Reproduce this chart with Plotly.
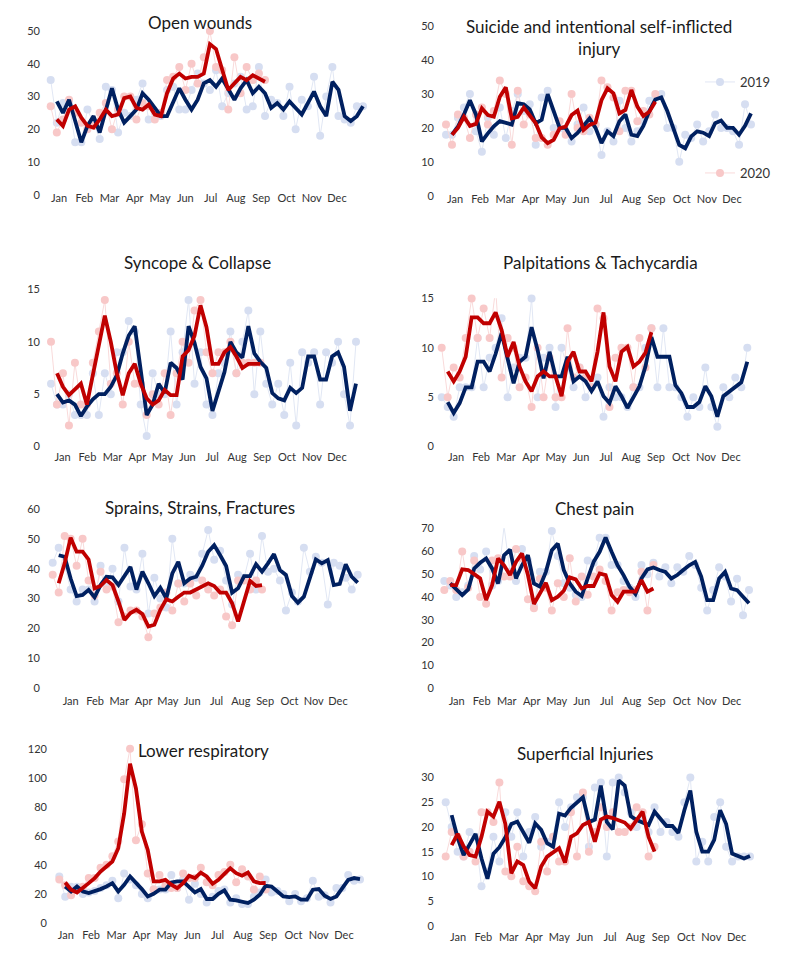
import plotly.graph_objects as go

months = ["Jan", "Feb", "Mar", "Apr", "May", "Jun", "Jul", "Aug", "Sep", "Oct", "Nov", "Dec"]

# weekly counts: 52 weeks of 2019, 36 weeks of 2020, plus the 2-week moving averages as drawn
open_2019 = [35,22,28,28,16,16,26,22,17,33,32,19,25,24,29,34,23,25,24,32,33,26,26,32,37,34,32,38,27,31,34,36,26,27,39,24,29,28,24,33,20,29,27,36,18,30,39,24,23,22,27,27]
open_2020 = [27,19,23,29,25,22,20,21,25,28,20,26,30,30,23,28,27,23,25,35,36,39,32,40,34,42,50,39,38,26,42,31,39,35,37,35]
open_ma19 = [28.5,25,29,22,16,21,24,19,26,32.5,26,22,24,26,31,29,26.5,24,24,28,32.5,29,26,29,34,35,33,35.5,32.5,29,32.5,35,31,33,31,26.5,28,26,28.5,26.5,24.5,28,31.5,27,24,34.5,32,24,22.5,24,27]
open_ma20 = [23,21,26,27,23.5,21,20.5,23,26,24,24.5,29.5,30,26.5,26,27.5,24.5,24,31,35.5,37,35.5,36,36,37,46,44.5,38,32,34,36,35,36.5,35.5,34.5]

suic_2019 = [18,18,23,26,30,19,13,23,18,26,17,25,30,25,27,15,29,31,20,20,19,16,21,26,19,21,12,19,16,28,20,16,19,22,28,29,30,20,20,10,18,17,21,16,19,24,20,20,19,15,27,21]
suic_2020 = [21,15,24,23,17,24,26,21,25,34,30,15,31,21,24,17,17,15,18,22,18,30,20,19,23,21,34,32,29,19,31,31,22,25,24,30]
suic_ma19 = [18,20.4,24,28.2,24,16,18.4,20.5,22,21.5,21,27.3,27,25.5,21.4,22.4,30,25,20,20,17,18.5,20.5,22.8,20,15.5,19,17.6,22,24,18,17.6,20.6,25,28.4,29,25,20,15,14,17.5,19,18.6,17.6,21.4,22.2,20,20,18,20.6,24.3]
suic_ma20 = [18,20,23.3,20.6,21.2,25.8,23.8,23.3,29.2,32,22.8,23.3,26,23.8,21.4,17.2,15.5,16.5,19.9,20.4,23.8,25.1,19.4,20.9,21.6,28.2,31.7,30.2,24.3,25.3,31.2,26.3,23.5,24.8,27.7]

sync_2019 = [6,4,4,5,3,3,3,7,3,7,5,9,9,12,11,4,1,7,5,5,11,4,9,14,6,9,4,3,7,8,11,7,10,13,5,11,6,4,6,3,8,2,9,8,9,4,9,8,10,5,2,10]
sync_2020 = [10,4,7,2,8,4,4,8,11,14,6,7,4,10,6,6,3,5,4,7,3,7,10,8,13,14,9,7,9,9,10,7,8,8,8,8]
sync_ma19 = [5,4.2,4.4,4,2.9,3.8,4.5,5,5,5.7,6.8,8.9,10.6,11.5,7.3,3,4,6,5.1,8,7.5,6.4,11.5,9.9,7.6,6.5,3.4,5.4,7.1,10,9,8.5,11.5,8.9,8.1,7.5,5.1,4.6,4.4,5.6,5.1,5.6,8.6,8.6,6.4,6.4,8.6,9,7.6,3.4,6]
sync_ma20 = [7,5.7,4.9,5.4,6,4,6.7,9.5,12.5,10,7,4.9,7,7.9,6,4.6,4,4.4,5.4,4.9,4.9,8.6,9.2,10.6,13.5,11.4,7.9,7.9,9,9.5,8.6,7.5,7.9,7.9,7.9]

palp_2019 = [5,4,3,6,6,6,11,6,9,10,13,5,8,9,9,15,5,9,10,4,10,8,6,8,5,6,7,3,6,5,5,4,6,6,10,12,6,12,6,6,5,3,5,4,8,4,2,6,5,7,6,10]
palp_2020 = [10,5,8,7,11,15,11,14,11,16,7,11,10,6,7,4,10,5,9,5,5,12,7,8,7,6,14,13,4,9,10,10,6,11,8,12]
palp_ma19 = [4.5,3.4,4.4,6,6,8.6,8.6,7.6,9.4,11.5,8.9,6.4,8.6,9.1,12.1,9.8,6.9,9.6,7.1,7.1,9.1,6.6,7.1,6.6,5.6,6.6,5.1,4.4,6.1,5.1,3.9,5.1,6.1,8.1,11.1,9.1,9.1,9.1,6.2,5.4,4,4,4.5,6.1,5.1,3,5.1,5.6,6.1,6.5,8.6]
palp_ma20 = [7.6,6.6,7.6,9.1,13.1,13.1,12.5,12.5,13.6,11.8,9.1,10.6,8.1,6.6,5.6,7.1,7.6,7.1,7.1,5.1,8.6,9.6,7.6,7.6,6.6,9.6,13.6,8.1,6.6,9.6,10.1,8.1,8.6,9.5,11.6]

spra_2019 = [42,47,41,33,29,33,33,29,41,34,40,29,47,34,33,45,25,37,30,27,50,35,35,38,37,45,53,43,46,36,28,38,37,45,33,51,39,40,36,26,32,29,47,39,44,42,28,42,41,37,33,38]
spra_2020 = [38,32,51,50,41,50,36,31,39,33,34,22,24,26,26,24,17,25,27,32,26,35,29,35,31,36,33,31,33,24,21,36,36,33,36,33]
spra_ma19 = [44.5,44,36.7,30.8,31.2,32.9,30.4,34.5,37.3,37.1,34.5,37.3,40.6,33,39,35.1,30.8,33.6,30.1,38.4,42.3,35.1,36.7,37.3,41,45.7,47.9,44.5,40.9,31.9,33.4,37.5,37.5,41.5,39,41.8,44.9,39.5,37.9,30.8,28.6,30.6,37.3,43.1,41.8,42.9,34.5,34.9,41.5,37.3,35.3]
spra_ma20 = [35.1,41.8,50.4,45.7,45.7,43.1,33.4,34.2,36.2,34.5,29,22.8,25.1,26.2,24.8,20.6,21.2,26.2,29.7,29,30.6,32,32,33,34.2,35.1,34.2,32,32,28.4,22.3,28.6,35.9,34.2,34.5]

ches_2019 = [47,45,40,42,45,58,52,60,45,47,71,51,47,61,56,36,51,51,69,58,46,44,41,40,56,55,66,66,54,54,47,44,40,54,50,55,49,53,46,53,51,58,54,44,34,43,53,49,38,48,32,43]
ches_2020 = [43,47,43,60,44,56,40,37,56,57,49,49,61,57,39,35,48,44,34,46,40,57,38,49,41,49,52,47,34,42,43,42,43,51,34,54]
ches_ma19 = [45.9,43.3,40.8,43.3,52.5,55,56.9,52.5,45.9,58.3,60.8,48.1,53.9,58.3,45.9,44.5,51,60.5,63.4,51.8,45.9,42.3,40.4,48.1,55.4,59.8,66.1,59.8,53.9,49.6,44.5,41.3,48.1,52.1,52.9,51.8,51,48.1,49.6,51.8,53.9,55.4,48.9,38.6,38.6,48.1,51,43.7,43,40.1,37.2]
ches_ma20 = [45.2,45.2,52.1,51.8,50,48.1,38.6,45.2,56.9,53.9,49.6,55.4,59.1,49.6,36.9,41.6,46.2,38.6,40.1,42.7,48.6,47.7,43.7,44.8,44.8,50.3,49.6,40.8,37.9,42.3,42.3,42.3,47.4,42.3,43.7]

lowr_2019 = [32,18,25,25,20,21,22,24,26,29,17,34,30,26,20,17,23,23,23,33,24,30,16,27,20,14,18,22,23,14,17,13,13,18,21,30,21,22,20,15,20,15,17,29,18,19,14,24,24,33,29,30]
lowr_2020 = [30,26,19,23,25,31,31,38,40,46,56,99,120,57,68,34,23,33,26,24,24,34,31,31,38,28,26,33,35,40,28,37,32,23,32,23]
lowr_ma19 = [25.1,21.7,25.1,21.7,20.6,21.7,23.3,25.1,27.4,21.7,26.3,32,27.9,23.3,18.3,20.1,22.9,22.9,27.9,28.6,28.6,25.1,21,23.3,16.5,16.5,20.1,22.4,16,15.5,14.9,13.7,16,19.4,25.6,25.1,21.7,18.3,17.8,18.3,16,16,22.9,23.3,18.7,16.5,18.3,24,29.7,30.9,30.2]
lowr_ma20 = [27.9,22.9,21,24,27.4,30.9,35.4,38.9,42.3,51.4,75.4,109.7,92.6,62.9,50.3,28.6,28.6,29.7,26.3,24,27.4,32.5,30.9,34.7,32,27,29.7,33.8,37.7,34.3,32.5,34.7,28.6,27.4,27.5]

supe_2019 = [25,20,15,14,19,18,8,11,18,13,23,18,23,14,19,22,16,17,18,25,20,24,26,26,16,28,29,14,29,30,27,23,20,22,19,24,19,21,19,18,25,30,13,17,13,22,25,16,13,14,14,14]
supe_2020 = [14,19,18,14,15,13,23,23,21,29,11,10,16,9,8,7,17,11,18,13,13,23,14,27,15,19,24,20,23,19,19,20,24,23,14,16]
supe_ma19 = [22.4,17.8,14.3,16.6,18.6,13.6,9.5,14.6,15.9,17.9,20.6,21.1,19.1,16.8,20.7,19.4,16.7,16,22.7,22.3,23.9,25,26,21,21.5,28.4,21,19.5,29.4,28.4,22.2,21.4,20.8,20.4,23.1,21.7,20.2,20.2,18.8,23.4,27.4,19,15,15,17.4,23.4,20.6,14.6,14,13.6,14.1]
supe_ma20 = [16.3,18.6,16.1,14.3,14,18,23.1,22.1,25.1,20.6,10.6,13,12.3,8.9,7.6,12,14,14.8,15.7,12.8,18,18.7,20.4,21,17,21.5,22.1,21.8,21.4,20.9,19.7,21.4,23.1,18,15]

titles = ["Open wounds", "Suicide and intentional self-inflicted<br>injury", "Syncope & Collapse",
          "Palpitations & Tachycardia", "Sprains, Strains, Fractures", "Chest pain",
          "Lower respiratory", "Superficial Injuries"]
series = [
    (open_2019, open_2020, open_ma19, open_ma20, [0, 10, 20, 30, 40, 50]),
    (suic_2019, suic_2020, suic_ma19, suic_ma20, [0, 10, 20, 30, 40, 50]),
    (sync_2019, sync_2020, sync_ma19, sync_ma20, [0, 5, 10, 15]),
    (palp_2019, palp_2020, palp_ma19, palp_ma20, [0, 5, 10, 15]),
    (spra_2019, spra_2020, spra_ma19, spra_ma20, [0, 10, 20, 30, 40, 50, 60]),
    (ches_2019, ches_2020, ches_ma19, ches_ma20, [0, 10, 20, 30, 40, 50, 60, 70]),
    (lowr_2019, lowr_2020, lowr_ma19, lowr_ma20, [0, 20, 40, 60, 80, 100, 120]),
    (supe_2019, supe_2020, supe_ma19, supe_ma20, [0, 5, 10, 15, 20, 25, 30]),
]

# the page body has an 8px margin, so the figure is 16px smaller than the window
PAD = 8
W, H = 787 - 2 * PAD, 973 - 2 * PAD


def px(x):
    return (x - PAD) / W


def py(y):
    return 1 - (y - PAD) / H


# screen geometry per panel: left, right, first week x, last week x, top tick y, zero y,
# Jan x, Dec x, title x, title y, month label standoff
geom = [
    (41, 372, 50.7, 363.0, 30.7, 195.0, 59, 337, 200, 22, -5),
    (435, 768, 446.0, 751.0, 26.0, 196.0, 455, 732, 599, 38, -5),
    (41, 372, 51.0, 356.0, 289.3, 446.7, 62.5, 337, 197, 263, 2),
    (435, 768, 441.7, 747.3, 298.3, 446.7, 456, 731, 600, 263, 2),
    (41, 372, 52.7, 357.7, 508.7, 688.3, 70.7, 338, 200, 507, 5),
    (435, 768, 444.3, 749.0, 528.3, 688.3, 456.7, 731.7, 594, 509, 5),
    (48, 372, 59.3, 360.0, 748.3, 923.3, 65.8, 344, 203, 750, 4),
    (435, 768, 445.7, 750.0, 777.3, 926.0, 458, 736.7, 585, 753, 3),
]

C19_PT, C19_LN = "#D6DEF1", "#E1E7F4"
C20_PT, C20_LN = "#F8C8C8", "#F9DADA"
NAVY, RED = "#002060", "#C00000"

fig = go.Figure()
ann = []
for k, (title, (y19, y20, m19, m20, yt), g) in enumerate(zip(titles, series, geom), start=1):
    left, right, x0, x1, ytop, yzero, jan, dec, tx, ty, stand = g
    step = (x1 - x0) / 51
    xa = "x" if k == 1 else f"x{k}"
    ya = "y" if k == 1 else f"y{k}"
    fig.add_trace(go.Scatter(x=list(range(len(y19))), y=y19, mode="lines+markers", name="2019",
                             line=dict(color=C19_LN, width=1), marker=dict(color=C19_PT, size=8),
                             xaxis=xa, yaxis=ya, cliponaxis=False, showlegend=(k == 1), legend="legend"))
    fig.add_trace(go.Scatter(x=list(range(len(y20))), y=y20, mode="lines+markers", name="2020",
                             line=dict(color=C20_LN, width=1), marker=dict(color=C20_PT, size=8),
                             xaxis=xa, yaxis=ya, cliponaxis=False, showlegend=(k == 1), legend="legend2"))
    fig.add_trace(go.Scatter(x=list(range(1, len(m19) + 1)), y=m19, mode="lines",
                             line=dict(color=NAVY, width=3.8), xaxis=xa, yaxis=ya,
                             cliponaxis=False, showlegend=False))
    fig.add_trace(go.Scatter(x=list(range(1, len(m20) + 1)), y=m20, mode="lines",
                             line=dict(color=RED, width=3.8), xaxis=xa, yaxis=ya,
                             cliponaxis=False, showlegend=False))

    wj = (jan - x0) / step
    wd = (dec - x0) / step
    tickvals = [wj + (wd - wj) * m / 11 for m in range(12)]
    ymax = yt[-1]
    sfx = "" if k == 1 else str(k)
    fig.layout["xaxis" + sfx] = dict(
        domain=[px(left), px(right)], range=[(left - x0) / step, (right - x0) / step],
        tickvals=tickvals, ticktext=months, showgrid=False, zeroline=False, showline=False,
        ticks="", tickfont=dict(size=11), anchor=ya, automargin=False,
        ticklabelstandoff=stand)
    fig.layout["yaxis" + sfx] = dict(
        domain=[py(yzero), py(ytop)], range=[-ymax * 0.002, ymax * 1.002],
        tickvals=yt, showgrid=False, zeroline=False, showline=False, ticks="",
        tickfont=dict(size=11), anchor=xa, automargin=False)
    ann.append(dict(text=title, x=px(tx), y=py(ty), xref="paper", yref="paper",
                    xanchor="center", yanchor="middle", showarrow=False,
                    font=dict(size=17, color="#1a1a1a")))

fig.update_layout(
    width=W, height=H, margin=dict(l=0, r=0, t=0, b=0, autoexpand=False),
    paper_bgcolor="white", plot_bgcolor="white",
    font=dict(family="Lato, Open Sans, sans-serif", color="#333333"),
    annotations=ann,
    legend=dict(x=px(700), y=py(82), xanchor="left", yanchor="middle",
                bgcolor="rgba(0,0,0,0)", font=dict(size=13), itemwidth=30),
    legend2=dict(x=px(700), y=py(173), xanchor="left", yanchor="middle",
                 bgcolor="rgba(0,0,0,0)", font=dict(size=13), itemwidth=30),
)

fig.write_html("out.html")
